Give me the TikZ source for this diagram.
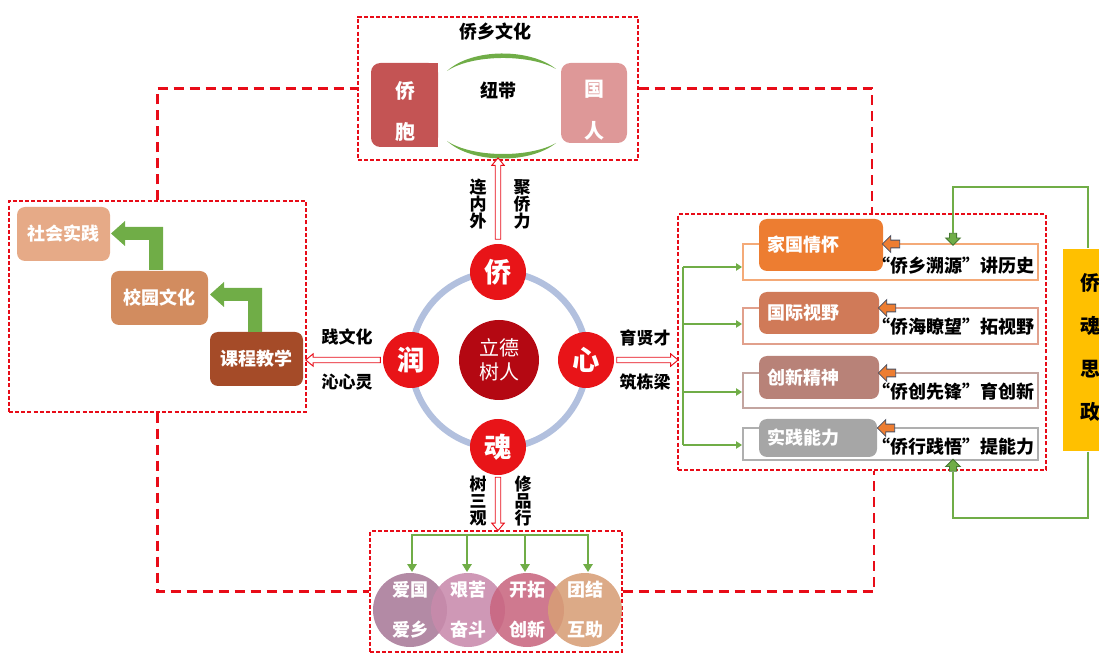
\documentclass[tikz,border=0pt]{standalone}
\usepackage{fontspec}
\setmainfont{Noto Sans CJK SC}
\usetikzlibrary{shapes.arrows,arrows.meta,calc}
\definecolor{dred}{RGB}{232,12,24}
\definecolor{cred}{RGB}{232,20,24}
\definecolor{cdark}{RGB}{180,8,18}
\definecolor{ringc}{RGB}{178,192,222}
\definecolor{qbc}{RGB}{196,84,84}
\definecolor{grc}{RGB}{222,152,152}
\definecolor{grn}{RGB}{112,173,71}
\definecolor{grnd}{RGB}{70,120,50}
\definecolor{sjc}{RGB}{230,170,135}
\definecolor{xyc}{RGB}{210,140,95}
\definecolor{kcc}{RGB}{165,75,40}
\definecolor{rA}{RGB}{237,125,49}
\definecolor{rB}{RGB}{208,122,88}
\definecolor{rC}{RGB}{184,130,120}
\definecolor{rD}{RGB}{166,166,166}
\definecolor{oA}{RGB}{244,170,120}
\definecolor{oB}{RGB}{225,160,140}
\definecolor{oC}{RGB}{195,165,160}
\definecolor{oD}{RGB}{175,175,175}
\definecolor{yel}{RGB}{255,192,0}
\definecolor{cA}{RGB}{168,122,152}
\definecolor{cB}{RGB}{200,138,172}
\definecolor{cC}{RGB}{200,102,128}
\definecolor{cD}{RGB}{215,158,118}
\definecolor{arrline}{RGB}{70,80,100}
\begin{document}
\begin{tikzpicture}[x=0.75pt,y=-0.75pt,
  frame/.style={draw=dred, line width=1.1pt, dash pattern=on 3pt off 1.6pt, inner sep=0pt},
  dlink/.style={draw=dred, line width=2.2pt, dash pattern=on 7.5pt off 4.5pt},
  redarrow/.style={single arrow, draw=dred, fill=white, line width=0.7pt, inner sep=0pt, inner ysep=1.7pt, single arrow head extend=2.6pt, single arrow tip angle=80, minimum width=0pt},
  orarrow/.style={single arrow, draw=arrline, fill=rA, line width=0.6pt, inner sep=0pt, inner ysep=2.6pt, single arrow head extend=3.4pt, minimum width=0pt, minimum height=13pt},
  grarrow/.style={single arrow, draw=grnd, fill=grn, line width=0.6pt, inner sep=0pt, inner ysep=2.4pt, single arrow head extend=2.8pt, minimum width=0pt, minimum height=9pt},
  gline/.style={draw=grn, line width=2.2pt},
  gthin/.style={draw=grn, line width=1.5pt},
  gtip/.style={-{Triangle[length=6pt,width=7pt]}},
  gtips/.style={-{Triangle[length=4.5pt,width=5.5pt]}},
  lbl/.style={font=\fontsize{12.75}{12.75}\selectfont\bfseries, align=center, inner sep=0pt},
  ttl/.style={font=\fontsize{13.5}{15}\selectfont\bfseries, inner sep=0pt},
  wbox/.style={fill=#1, rounded corners=6pt, text=white, font=\fontsize{13.5}{15}\selectfont\bfseries, inner sep=0pt},
  rowbox/.style={fill=#1, rounded corners=6pt, text=white, font=\fontsize{13.5}{15}\selectfont\bfseries, align=left, inner xsep=6pt, inner ysep=0pt},
  rowframe/.style={draw=#1, line width=0.9pt},
  redc/.style={circle, fill=cred, text=white, font=\fontsize{20.5}{21}\selectfont\bfseries, minimum size=42pt, inner sep=0pt},
  bcirc/.style={circle, fill=#1, fill opacity=0.88, text opacity=1, text=white, font=\fontsize{13.5}{30}\selectfont\bfseries, align=center, minimum size=55.5pt, inner sep=0pt},
  rtxt/.style={font=\fontsize{13.5}{15}\selectfont\bfseries, inner sep=0pt, anchor=east}
]
\useasboundingbox (0,0) rectangle (1099,655);
\clip (0,0) rectangle (1099,655);

% ---------- frames ----------
\node[frame, minimum width=210pt, minimum height=107.25pt] (topbox) at (498,88.5) {};
\node[frame, minimum width=222.75pt, minimum height=158.25pt] (leftbox) at (157.5,306.5) {};
\node[frame, minimum width=276pt, minimum height=192pt] (rightbox) at (862,342) {};
\node[frame, minimum width=189pt, minimum height=90.75pt] (botbox) at (496,591.5) {};

% ---------- dashed links ----------
\draw[dlink] (leftbox.north) |- (topbox.west);
\draw[dlink] (topbox.east) -| ([xshift=7.5pt]rightbox.north);
\draw[dlink] (leftbox.south) |- (botbox.west);
\draw[dlink] (botbox.east) -| ([xshift=9pt]rightbox.south);

% ---------- top box ----------
\node[ttl] (title) at (495,32) {侨乡文化};
\node[fill=qbc, rounded corners=7pt, minimum width=50.25pt, minimum height=63pt, inner sep=0pt] (qiaobao) at (404.5,105) {};
\fill[qbc] (405,63) rectangle (438,147);
\node[text=white, font=\fontsize{15}{16}\selectfont\bfseries, inner sep=0pt] (qb1) at (405,91) {侨};
\node[text=white, font=\fontsize{15}{16}\selectfont\bfseries, inner sep=0pt] (qb2) at (405,132) {胞};
\node[fill=grc, rounded corners=7pt, minimum width=49.5pt, minimum height=60pt, inner sep=0pt] (guoren) at (594,103) {};
\node[text=white, font=\fontsize{15}{16}\selectfont\bfseries, inner sep=0pt] (gr1) at (594,89) {国};
\node[text=white, font=\fontsize{15}{16}\selectfont\bfseries, inner sep=0pt] (gr2) at (594,131) {人};
\node[ttl] (niudai) at (498,91) {纽带};
\fill[grn] (447,71) .. controls (472,48) and (530,48) .. (556,69) .. controls (530,54) and (472,54) .. cycle;
\fill[grn] (447,141) .. controls (472,164) and (530,164) .. (556,143) .. controls (530,158) and (472,158) .. cycle;

% ---------- centre ----------
\draw[ringc, line width=4.8pt] (499,360) circle[radius=88];
\node[circle, fill=cdark, text=white, minimum size=60pt, inner sep=0pt, align=center, font=\fontsize{15}{18}\selectfont] (center) at (499,360) {立德\\树人};
\node[redc] (qiao) at (498,272) {侨};
\node[redc] (run) at (411,360) {润};
\node[redc] (xin) at (586,360) {心};
\node[redc] (hun) at (498,447) {魂};

% red hollow arrows
\node[redarrow, minimum height=61pt, rotate=90] (aup) at ($(qiao.north)!0.5!(qiao.north |- topbox.south)+(0,-2)$) {};
\node[redarrow, minimum height=56pt, rotate=180] (aleft) at ($(run.west)!0.5!(run.west -| leftbox.east)$) {};
\node[redarrow, minimum height=46pt] (aright) at ($(xin.east)!0.5!(xin.east -| rightbox.west)$) {};
\node[redarrow, minimum height=40pt, rotate=-90] (adown) at ($(hun.south)+(0,27)$) {};

% labels
\node[lbl] (l1) at (478,204) {连\\内\\外};
\node[lbl] (l2) at (522,204) {聚\\侨\\力};
\node[lbl] (l3) at (347,337) {践文化};
\node[lbl] (l4) at (347,382) {沁心灵};
\node[lbl] (l5) at (645,338) {育贤才};
\node[lbl] (l6) at (645,382) {筑栋梁};
\node[lbl] (l7) at (478,501) {树\\三\\观};
\node[lbl] (l8) at (523,501) {修\\品\\行};

% ---------- left box ----------
\node[wbox=sjc, minimum width=69.75pt, minimum height=40.5pt] (shsj) at (63.5,234) {社会实践};
\node[wbox=xyc, minimum width=72.75pt, minimum height=40.5pt] (xywh) at (159.5,298) {校园文化};
\node[wbox=kcc, minimum width=69.75pt, minimum height=40.5pt] (kcjx) at (256.5,359) {课程教学};
\fill[grn] (163,270) -- (163,227) -- (125,227) -- (125,221) -- (111,233.5) -- (125,246) -- (125,240) -- (149,240) -- (149,270) -- cycle;
\fill[grn] (262,332) -- (262,288) -- (224,288) -- (224,282) -- (210,294.5) -- (224,307) -- (224,301) -- (248,301) -- (248,332) -- cycle;

% ---------- right box ----------
\draw[rowframe=oA] (743,244) rectangle (1038,280);
\draw[rowframe=oB] (743,308) rectangle (1038,344);
\draw[rowframe=oC] (743,373) rectangle (1038,408);
\draw[rowframe=oD] (743,428) rectangle (1038,460);
\node[rowbox=rA, text width=81pt, minimum height=39pt] (jg) at (821,245) {家国情怀};
\node[rowbox=rB, text width=78pt, minimum height=31.5pt] (gj) at (819,313) {国际视野};
\node[rowbox=rC, text width=78pt, minimum height=32.25pt] (cx) at (819,377.5) {创新精神};
\node[rowbox=rD, text width=76.5pt, minimum height=28.5pt] (sj) at (818,438) {实践能力};
\node[orarrow, rotate=180] (oa1) at (893,244) {};
\node[orarrow, rotate=180] (oa2) at (889,308) {};
\node[orarrow, rotate=180] (oa3) at (889,373) {};
\node[orarrow, rotate=180] (oa4) at (888,428) {};
\node[rtxt] (t1) at (1035,266) {“侨乡溯源”讲历史};
\node[rtxt] (t2) at (1035,327) {“侨海瞭望”拓视野};
\node[rtxt] (t3) at (1035,392) {“侨创先锋”育创新};
\node[rtxt] (t4) at (1035,447) {“侨行践悟”提能力};
% green bracket
\coordinate (bk1) at (683,267);
\coordinate (bk4) at (683,445);
\draw[gthin] (bk1) -- (bk4);
\draw[gthin, gtips] (bk1) -- (742,267);
\draw[gthin, gtips] (683,324) -- (742,324);
\draw[gthin, gtips] (683,392) -- (742,392);
\draw[gthin, gtips] (bk4) -- (742,445);

% ---------- yellow box and loop ----------
\node[fill=yel, minimum width=40.5pt, minimum height=152pt, inner sep=0pt] (yelbox) at (1090,350) {};
\node[font=\fontsize{15}{32.25}\selectfont\bfseries, align=center, inner sep=0pt] (yeltext) at (1090,347) {侨\\魂\\思\\政};
\node[grarrow, rotate=-90] (ga1) at (953,237.5) {};
\node[grarrow, rotate=90] (ga2) at (953,467) {};
\draw[gthin] (ga1.west) -- (953,187) -| ([xshift=-1.5pt]yelbox.north);
\draw[gthin] ([xshift=-1.5pt]yelbox.south) -- (1088,518) -| (ga2.west);

% ---------- bottom box ----------
\node[bcirc=cA] (b1) at (410,610) {爱国\\爱乡};
\node[bcirc=cB] (b2) at (468,610) {艰苦\\奋斗};
\node[bcirc=cC] (b3) at (527,610) {开拓\\创新};
\node[bcirc=cD] (b4) at (585,610) {团结\\互助};
\draw[gline, gtip] (412,535) -- (412,572);
\draw[gline, gtip] (467,535) -- (467,572);
\draw[gline, gtip] (525,535) -- (525,572);
\draw[gline, gtip] (588,535) -- (588,572);
\draw[gline] (411,535) -- (589,535);
\end{tikzpicture}
\end{document}
